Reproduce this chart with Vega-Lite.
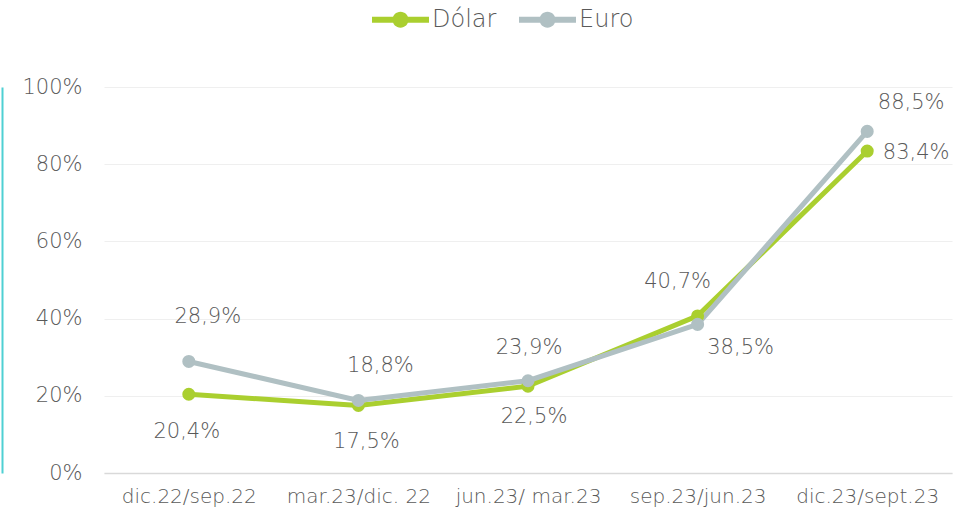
{
  "$schema": "https://vega.github.io/schema/vega-lite/v6.json",
  "autosize": {"type": "none"},
  "padding": {"left": 104, "top": 87, "right": 27, "bottom": 41},
  "width": 848,
  "height": 386,
  "background": "white",
  "config": {
    "locale": {"number": {"decimal": ",", "thousands": ".", "grouping": [3], "currency": ["", " €"]}},
    "font": "DejaVu Sans",
    "view": {"stroke": null},
    "text": {"font": "DejaVu Sans", "fontSize": 21, "color": "#595959", "fontWeight": 300}
  },
  "data": {"values": [
    {"p": "dic.22/sep.22", "s": "Dólar", "v": 0.204},
    {"p": "mar.23/dic. 22", "s": "Dólar", "v": 0.175},
    {"p": "jun.23/ mar.23", "s": "Dólar", "v": 0.225},
    {"p": "sep.23/jun.23", "s": "Dólar", "v": 0.407},
    {"p": "dic.23/sept.23", "s": "Dólar", "v": 0.834},
    {"p": "dic.22/sep.22", "s": "Euro", "v": 0.289},
    {"p": "mar.23/dic. 22", "s": "Euro", "v": 0.188},
    {"p": "jun.23/ mar.23", "s": "Euro", "v": 0.239},
    {"p": "sep.23/jun.23", "s": "Euro", "v": 0.385},
    {"p": "dic.23/sept.23", "s": "Euro", "v": 0.885}
  ]},
  "resolve": {"axis": {"y": "independent"}},
  "layer": [
    {
      "mark": {"type": "line", "strokeWidth": 5},
      "encoding": {
        "x": {"field": "p", "type": "ordinal", "sort": null,
          "scale": {"type": "point", "padding": 0.5},
          "axis": {"title": null, "labelAngle": 0, "labelFont": "DejaVu Sans", "labelFontWeight": 300, "labelFontSize": 20, "labelColor": "#595959", "labelPadding": 13, "ticks": false, "domainColor": "#d9d9d9", "domainWidth": 1.5, "grid": false}},
        "y": {"field": "v", "type": "quantitative",
          "scale": {"domain": [0, 1], "nice": false},
          "axis": {"title": null, "format": ".0%", "values": [0, 0.2, 0.4, 0.6, 0.8, 1], "labelFont": "DejaVu Sans", "labelFontWeight": 300, "labelFontSize": 21, "labelColor": "#595959", "labelPadding": 22, "ticks": false, "domain": false, "grid": true, "gridColor": "#efefef", "gridWidth": 1}},
        "color": {"field": "s", "type": "nominal", "scale": {"domain": ["Dólar", "Euro"], "range": ["#AACF2F", "#B0C0C3"]},
          "legend": {"title": null, "orient": "none", "direction": "horizontal", "legendX": 268, "legendY": -96, "padding": 0,
            "symbolType": "M-1,-0.105 L1,-0.105 L1,0.105 L-1,0.105 Z M0.28,0 A0.28,0.28 0 1,1 -0.28,0 A0.28,0.28 0 1,1 0.28,0 Z",
            "symbolSize": 3249, "symbolStrokeWidth": 0, "labelOffset": 3, "columnPadding": 22,
            "labelFont": "DejaVu Sans", "labelFontWeight": 300, "labelFontSize": 24, "labelColor": "#595959"}}
      }
    },
    {
      "mark": {"type": "point", "filled": true, "size": 170, "opacity": 1},
      "encoding": {
        "x": {"field": "p", "type": "ordinal", "sort": null},
        "y": {"field": "v", "type": "quantitative",
          "axis": {"orient": "left", "offset": 102, "domain": true, "domainColor": "#4FD0D3", "domainWidth": 2, "labels": false, "ticks": false, "grid": false, "title": null}},
        "color": {"field": "s", "type": "nominal"}
      }
    },
    {"transform": [{"filter": "datum.s == 'Dólar' && datum.p == 'dic.22/sep.22'"}], "mark": {"type": "text", "dx": -2, "dy": 38},
     "encoding": {"x": {"field": "p", "type": "ordinal", "sort": null}, "y": {"field": "v", "type": "quantitative", "axis": null}, "text": {"field": "v", "format": ".1%"}}},
    {"transform": [{"filter": "datum.s == 'Dólar' && datum.p == 'mar.23/dic. 22'"}], "mark": {"type": "text", "dx": 8, "dy": 37},
     "encoding": {"x": {"field": "p", "type": "ordinal", "sort": null}, "y": {"field": "v", "type": "quantitative", "axis": null}, "text": {"field": "v", "format": ".1%"}}},
    {"transform": [{"filter": "datum.s == 'Dólar' && datum.p == 'jun.23/ mar.23'"}], "mark": {"type": "text", "dx": 6, "dy": 31},
     "encoding": {"x": {"field": "p", "type": "ordinal", "sort": null}, "y": {"field": "v", "type": "quantitative", "axis": null}, "text": {"field": "v", "format": ".1%"}}},
    {"transform": [{"filter": "datum.s == 'Dólar' && datum.p == 'sep.23/jun.23'"}], "mark": {"type": "text", "dx": -20, "dy": -34},
     "encoding": {"x": {"field": "p", "type": "ordinal", "sort": null}, "y": {"field": "v", "type": "quantitative", "axis": null}, "text": {"field": "v", "format": ".1%"}}},
    {"transform": [{"filter": "datum.s == 'Dólar' && datum.p == 'dic.23/sept.23'"}], "mark": {"type": "text", "dx": 49, "dy": 2},
     "encoding": {"x": {"field": "p", "type": "ordinal", "sort": null}, "y": {"field": "v", "type": "quantitative", "axis": null}, "text": {"field": "v", "format": ".1%"}}},
    {"transform": [{"filter": "datum.s == 'Euro' && datum.p == 'dic.22/sep.22'"}], "mark": {"type": "text", "dx": 19, "dy": -44},
     "encoding": {"x": {"field": "p", "type": "ordinal", "sort": null}, "y": {"field": "v", "type": "quantitative", "axis": null}, "text": {"field": "v", "format": ".1%"}}},
    {"transform": [{"filter": "datum.s == 'Euro' && datum.p == 'mar.23/dic. 22'"}], "mark": {"type": "text", "dx": 22, "dy": -34},
     "encoding": {"x": {"field": "p", "type": "ordinal", "sort": null}, "y": {"field": "v", "type": "quantitative", "axis": null}, "text": {"field": "v", "format": ".1%"}}},
    {"transform": [{"filter": "datum.s == 'Euro' && datum.p == 'jun.23/ mar.23'"}], "mark": {"type": "text", "dx": 1, "dy": -33},
     "encoding": {"x": {"field": "p", "type": "ordinal", "sort": null}, "y": {"field": "v", "type": "quantitative", "axis": null}, "text": {"field": "v", "format": ".1%"}}},
    {"transform": [{"filter": "datum.s == 'Euro' && datum.p == 'sep.23/jun.23'"}], "mark": {"type": "text", "dx": 43, "dy": 24},
     "encoding": {"x": {"field": "p", "type": "ordinal", "sort": null}, "y": {"field": "v", "type": "quantitative", "axis": null}, "text": {"field": "v", "format": ".1%"}}},
    {"transform": [{"filter": "datum.s == 'Euro' && datum.p == 'dic.23/sept.23'"}], "mark": {"type": "text", "dx": 44, "dy": -28},
     "encoding": {"x": {"field": "p", "type": "ordinal", "sort": null}, "y": {"field": "v", "type": "quantitative", "axis": null}, "text": {"field": "v", "format": ".1%"}}}
  ]
}
